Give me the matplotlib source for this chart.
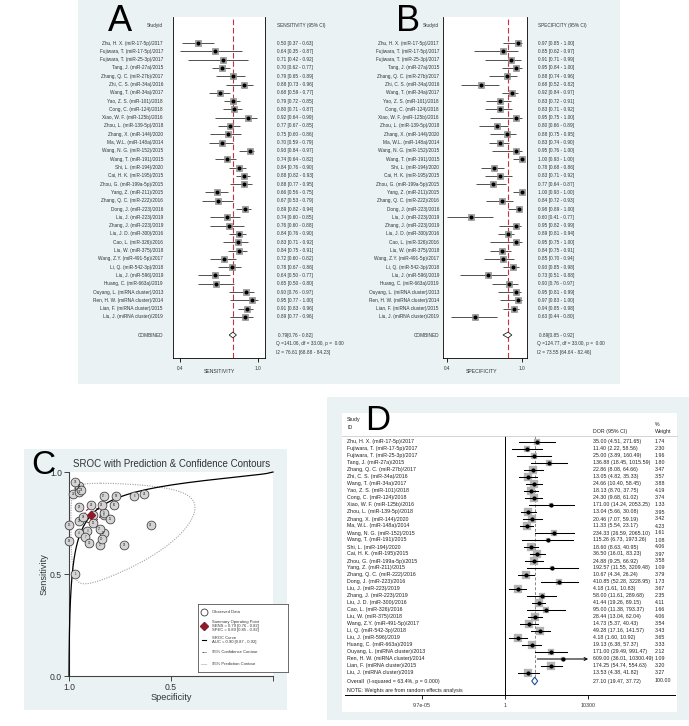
import numpy as np
import matplotlib
matplotlib.use('Agg')
import matplotlib.pyplot as plt
from matplotlib.patches import Rectangle, Polygon
from matplotlib.lines import Line2D
import matplotlib.transforms as mtransforms

plt.rcParams['font.family'] = ['Liberation Sans', 'DejaVu Sans']

W, H = 689, 726

# ---------------- data ----------------
studies = [
    "Zhu, H. X. (miR-17-5p)/2017", "Fujiwara, T. (miR-17-5p)/2017", "Fujiwara, T. (miR-25-3p)/2017",
    "Tang, J. (miR-27a)/2015", "Zhang, Q. C. (miR-27b)/2017", "Zhi, C. S. (miR-34a)/2016",
    "Wang, T. (miR-34a)/2017", "Yao, Z. S. (miR-101)/2018", "Cong, C. (miR-124)/2018",
    "Xiao, W. F. (miR-125b)/2016", "Zhou, L. (miR-139-5p)/2018", "Zhang, X. (miR-144)/2020",
    "Ma, W.L. (miR-148a)/2014", "Wang, N. G. (miR-152)/2015", "Wang, T. (miR-191)/2015",
    "Shi, L. (miR-194)/2020", "Cai, H. K. (miR-195)/2015", "Zhou, G. (miR-199a-5p)/2015",
    "Yang, Z. (miR-211)/2015", "Zhang, Q. C. (miR-222)/2016", "Dong, J. (miR-223)/2016",
    "Liu, J. (miR-223)/2019", "Zhang, J. (miR-223)/2019", "Liu, J. D. (miR-300)/2016",
    "Cao, L. (miR-326)/2016", "Liu, W. (miR-375)/2018", "Wang, Z.Y. (miR-491-5p)/2017",
    "Li, Q. (miR-542-3p)/2018", "Liu, J. (miR-596)/2019", "Huang, C. (miR-663a)/2019",
    "Ouyang, L. (miRNA cluster)/2013", "Ren, H. W. (miRNA cluster)/2014",
    "Lian, F. (miRNA cluster)/2015", "Liu, J. (miRNA cluster)/2019",
]

sens_est = [0.50, 0.64, 0.71, 0.70, 0.79, 0.88, 0.68, 0.79, 0.80, 0.92, 0.77, 0.75, 0.70, 0.93, 0.74, 0.84, 0.88,
            0.88, 0.66, 0.67, 0.89, 0.74, 0.76, 0.84, 0.83, 0.84, 0.72, 0.78, 0.64, 0.65, 0.90, 0.95, 0.91, 0.89]
sens_lo = [0.37, 0.35, 0.42, 0.62, 0.65, 0.73, 0.59, 0.72, 0.71, 0.64, 0.67, 0.60, 0.59, 0.84, 0.64, 0.76, 0.82,
           0.77, 0.56, 0.53, 0.82, 0.60, 0.60, 0.76, 0.71, 0.75, 0.60, 0.67, 0.50, 0.50, 0.76, 0.77, 0.83, 0.77]
sens_hi = [0.63, 0.87, 0.92, 0.77, 0.89, 0.96, 0.77, 0.85, 0.87, 0.99, 0.85, 0.86, 0.79, 0.97, 0.82, 0.90, 0.93,
           0.95, 0.75, 0.79, 0.94, 0.85, 0.88, 0.90, 0.92, 0.91, 0.82, 0.86, 0.77, 0.80, 0.97, 1.00, 0.96, 0.96]
sens_comb = (0.79, 0.76, 0.82)
sens_q = "Q =141.06, df = 33.00, p =  0.00"
sens_i2 = "I2 = 76.61 [68.88 - 84.23]"

spec_est = [0.97, 0.85, 0.91, 0.95, 0.88, 0.68, 0.92, 0.83, 0.83, 0.95, 0.80, 0.88, 0.83, 0.95, 1.00, 0.78, 0.83,
            0.77, 1.00, 0.84, 0.98, 0.60, 0.95, 0.89, 0.95, 0.84, 0.85, 0.93, 0.73, 0.90, 0.95, 0.97, 0.94, 0.63]
spec_lo = [0.85, 0.62, 0.71, 0.84, 0.74, 0.52, 0.84, 0.72, 0.71, 0.75, 0.66, 0.75, 0.74, 0.76, 0.93, 0.68, 0.71,
           0.64, 0.93, 0.72, 0.89, 0.41, 0.82, 0.81, 0.75, 0.75, 0.70, 0.85, 0.51, 0.76, 0.81, 0.83, 0.85, 0.44]
spec_hi = [1.00, 0.97, 0.99, 1.00, 0.96, 0.82, 0.97, 0.91, 0.92, 1.00, 0.89, 0.95, 0.90, 1.00, 1.00, 0.86, 0.92,
           0.87, 1.00, 0.93, 1.00, 0.77, 0.99, 0.94, 1.00, 0.91, 0.94, 0.98, 0.88, 0.97, 0.99, 1.00, 0.98, 0.80]
spec_comb = (0.89, 0.85, 0.92)
spec_q = "Q =124.77, df = 33.00, p =  0.00"
spec_i2 = "I2 = 73.55 [64.64 - 82.46]"

dor_est = [35.00, 11.40, 25.00, 136.88, 22.86, 13.05, 24.66, 18.13, 24.30, 171.00, 13.04, 20.46, 11.33, 234.33,
           115.26, 18.60, 36.50, 24.88, 192.57, 10.67, 410.85, 4.18, 58.00, 41.44, 95.00, 28.44, 14.73, 49.28,
           4.18, 19.13, 171.00, 609.00, 174.25, 13.53]
dor_lo = [4.51, 2.22, 3.89, 18.45, 8.08, 4.82, 10.40, 8.70, 9.68, 14.24, 5.66, 7.07, 5.54, 26.59, 6.73, 8.63,
          16.01, 9.25, 11.55, 4.34, 52.28, 1.61, 11.61, 19.26, 11.38, 13.04, 5.37, 17.16, 1.60, 6.38, 29.49,
          36.01, 54.74, 4.38]
dor_hi = [271.65, 58.56, 160.49, 1015.59, 64.66, 35.33, 58.45, 37.75, 61.02, 2053.25, 30.08, 59.19, 23.17,
          2065.10, 1973.26, 40.95, 83.23, 66.92, 3209.48, 26.24, 3228.95, 10.83, 289.68, 89.15, 793.37, 62.04,
          40.43, 141.57, 10.92, 57.37, 991.47, 10300.49, 554.63, 41.82]
dor_w = [1.74, 2.30, 1.96, 1.80, 3.47, 3.57, 3.88, 4.19, 3.74, 1.33, 3.95, 3.42, 4.23, 1.61, 1.08, 4.06, 3.97,
         3.58, 1.09, 3.79, 1.73, 3.67, 2.35, 4.11, 1.66, 4.06, 3.54, 3.43, 3.65, 3.33, 2.12, 1.09, 3.20, 3.27]
dor_overall = (27.10, 19.47, 37.72, 100.00)
dor_het = "Overall  (I-squared = 63.4%, p = 0.000)"
dor_ticks = [9.7e-05, 1, 10300]
dor_tick_labels = ["9.7e-05", "1", "10300"]

# SROC summary (from bivariate model)
sroc_sens = (0.79, 0.76, 0.82)
sroc_spec = (0.89, 0.85, 0.92)
sroc_auc = (0.90, 0.87, 0.92)
sroc_slope = 0.65
pred_sd = (0.62, 1.05, -0.15)   # logit sd sens, logit sd spec, correlation
conf_sd = (0.09, 0.17, -0.2)

BG = '#EAF2F3'
TXT = '#333333'

fig = plt.figure(figsize=(W / 100, H / 100), dpi=100)


def rect_px(x0, y0, x1, y1, color, z=-2, ec='none', lw=0):
    fig.patches.append(Rectangle((x0 / W, 1 - y1 / H), (x1 - x0) / W, (y1 - y0) / H,
                                 transform=fig.transFigure, facecolor=color, edgecolor=ec,
                                 linewidth=lw, zorder=z))


def add_ax(x0, y0, x1, y1):
    return fig.add_axes([x0 / W, 1 - y1 / H, (x1 - x0) / W, (y1 - y0) / H])


def logit(p):
    p = np.asarray(p, float)
    return np.log(p / (1 - p))


def expit(x):
    return 1 / (1 + np.exp(-x))


# ---------------- panels A & B ----------------
def forest(lay, letter, est, lo, hi, header, comb, qtxt, i2txt, xlab, xlim, ticks):
    rect_px(lay['bg'][0], 0, lay['bg'][1], 384, BG)
    ax = add_ax(lay['plot'][0], 17, lay['plot'][1], 358)
    ax.set_facecolor('white')
    n = len(est)
    rows = np.arange(1, n + 1)
    y0p, st = 43, 8.3

    def r(py):
        return (py - y0p) / st + 1
    ax.set_ylim(r(358), r(17))
    ax.set_xlim(*xlim)
    ax.axvline(comb[0], color='#c8323c', ls=(0, (5, 2.5)), lw=0.8, zorder=1)
    ax.hlines(rows, lo, hi, color='#222222', lw=0.55, zorder=2)
    ax.plot(est, rows, 's', ms=4.8, mfc='#a3a3a3', mec='#7f7f7f', mew=0.4, zorder=3)
    ax.plot(est, rows, 'o', ms=1.9, color='black', zorder=4)
    cr = r(335)
    ax.add_patch(Polygon([(comb[1], cr), (comb[0], cr - 0.35), (comb[2], cr), (comb[0], cr + 0.35)],
                         closed=True, facecolor='white', edgecolor='#222222', lw=0.6, zorder=3))
    ax.spines['top'].set_visible(False)
    for s in ['left', 'right', 'bottom']:
        ax.spines[s].set_linewidth(0.6)
    ax.set_yticks([])
    ax.set_xticks(ticks)
    ax.set_xticklabels(["0.4", "1.0"])
    ax.tick_params(axis='x', length=3, width=0.6, labelsize=3.4, pad=3, labelcolor=TXT)
    tr = mtransforms.blended_transform_factory(fig.transFigure, ax.transData)
    fs = 3.45
    lx, vx = lay['lab'] / W, lay['val'] / W
    for i in range(n):
        ax.text(lx, rows[i], studies[i], transform=tr, ha='right', va='center',
                fontsize=fs, color=TXT, clip_on=False)
        ax.text(vx, rows[i], f"{est[i]:.2f} [{lo[i]:.2f} - {hi[i]:.2f}]", transform=tr,
                ha='left', va='center', fontsize=fs, color=TXT, clip_on=False)
    ax.text(lx, r(26), "Studyid", transform=tr, ha='right', va='center', fontsize=fs,
            color=TXT, clip_on=False)
    ax.text(vx, r(26), header, transform=tr, ha='left', va='center', fontsize=fs,
            color=TXT, clip_on=False)
    ax.text(lx, cr, "COMBINED", transform=tr, ha='right', va='center', fontsize=fs,
            color=TXT, clip_on=False)
    ax.text(vx + 1 / W, cr, f"{comb[0]:.2f}[{comb[1]:.2f} - {comb[2]:.2f}]", transform=tr,
            ha='left', va='center', fontsize=fs, color=TXT, clip_on=False)
    ax.text(vx - 1 / W, r(343.5), qtxt, transform=tr, ha='left', va='center', fontsize=fs,
            color=TXT, clip_on=False)
    ax.text(vx - 1 / W, r(352), i2txt, transform=tr, ha='left', va='center', fontsize=fs,
            color=TXT, clip_on=False)
    fig.text(lay['xl'] / W, 1 - 372 / H, xlab, ha='center', va='center', fontsize=3.7, color=TXT)
    fig.text(lay['let'] / W, 1 - 31 / H, letter, ha='left', va='baseline', fontsize=26, color='black')


layA = dict(bg=(78, 343), plot=(173, 265), lab=163, val=277, xl=219, let=108)
layB = dict(bg=(343, 620), plot=(443, 527), lab=439, val=538, xl=482, let=396)

forest(layA, "A", sens_est, sens_lo, sens_hi, "SENSITIVITY (95% CI)", sens_comb, sens_q, sens_i2,
       "SENSITIVITY", (0.2917, 1.058), [0.35, 1.0])
forest(layB, "B", spec_est, spec_lo, spec_hi, "SPECIFICITY (95% CI)", spec_comb, spec_q, spec_i2,
       "SPECIFICITY", (0.3785, 1.039), [0.41, 1.0])

# ---------------- panel C ----------------
rect_px(24, 449, 287, 710, BG)
axc = add_ax(69, 472, 273, 676)
axc.set_facecolor('white')
axc.set_xlim(1.0, 0.0)
axc.set_ylim(0.0, 1.0)
for s in ['top', 'right']:
    axc.spines[s].set_visible(False)
for s in ['left', 'bottom']:
    axc.spines[s].set_linewidth(0.8)
    axc.spines[s].set_color('#444444')
axc.set_xticks([1.0, 0.5, 0.0])
axc.set_xticklabels(["1.0", "0.5", ""])
axc.set_yticks([0.0, 0.5, 1.0])
axc.set_yticklabels(["0.0", "0.5", "1.0"])
axc.tick_params(length=3.5, width=0.7, labelsize=6.2, pad=1.5, color='#444444', labelcolor='#333333')
axc.set_xlabel("Specificity", fontsize=6.6, color='#333333', labelpad=1)
axc.set_ylabel("Sensitivity", fontsize=6.6, color='#333333', labelpad=1)
fig.text(31 / W, 1 - 474 / H, "C", fontsize=24, ha='left', va='baseline')
fig.text(73 / W, 1 - 464 / H, "SROC with Prediction & Confidence Contours", fontsize=7, ha='left',
         va='center', color='#333333')

mu = np.array([logit(sroc_sens[0]), logit(sroc_spec[0])])
t = np.linspace(0, 2 * np.pi, 300)
c95 = np.sqrt(-2 * np.log(0.05))


def ellipse(sd):
    s1, s2, rho = sd
    cov = np.array([[s1 ** 2, rho * s1 * s2], [rho * s1 * s2, s2 ** 2]])
    L = np.linalg.cholesky(cov)
    pts = mu[:, None] + c95 * L @ np.vstack([np.cos(t), np.sin(t)])
    return expit(pts[1]), expit(pts[0])   # spec, sens


px_, py_ = ellipse(pred_sd)
axc.plot(px_, py_, color='#a0a0a0', ls=(0, (1, 1.2)), lw=0.8, zorder=2)
cx_, cy_ = ellipse(conf_sd)
axc.plot(cx_, cy_, color='#8b1a1a', ls=(0, (3, 2)), lw=0.7, zorder=2)

spg = 1 - np.logspace(-7, np.log10(0.9999), 500)
sroc_curve = expit(mu[0] + sroc_slope * (logit(1 - spg) - logit(1 - sroc_spec[0])))
axc.plot(spg, sroc_curve, color='black', lw=0.9, zorder=3, clip_on=False)

axc.scatter(spec_est, sens_est, s=40, facecolor='#d4d4d4', edgecolor='#3a3a3a', lw=0.55, zorder=4,
            clip_on=False)
for i in range(len(spec_est)):
    axc.text(spec_est[i], sens_est[i], str(i + 1), fontsize=2.1, ha='center', va='center', zorder=5,
             color='#222222', clip_on=False)
axc.plot([sroc_spec[0]], [sroc_sens[0]], 'D', ms=4.5, color='#8b1a2a', zorder=6)

# legend
axl = add_ax(198, 604, 288, 672)
axl.set_xlim(0, 90)
axl.set_ylim(68, 0)
axl.set_xticks([])
axl.set_yticks([])
for s in axl.spines.values():
    s.set_linewidth(0.6)
    s.set_color('#555555')
lfs = 3.0
axl.plot([6], [8], 'o', ms=5, mfc='white', mec='#3a3a3a', mew=0.6)
axl.text(14, 8, "Observed Data", fontsize=lfs, va='center', color='#333333')
axl.plot([6], [22], 'D', ms=4, color='#8b1a2a')
axl.text(14, 22, "Summary Operating Point\n"
         f"SENS = {sroc_sens[0]:.2f} [{sroc_sens[1]:.2f} - {sroc_sens[2]:.2f}]\n"
         f"SPEC = {sroc_spec[0]:.2f} [{sroc_spec[1]:.2f} - {sroc_spec[2]:.2f}]",
         fontsize=lfs, va='center', color='#333333', linespacing=0.95)
axl.plot([4, 8], [36, 36], color='black', lw=0.8)
axl.text(14, 36, f"SROC Curve\nAUC = {sroc_auc[0]:.2f} [{sroc_auc[1]:.2f} - {sroc_auc[2]:.2f}]",
         fontsize=lfs, va='center', color='#333333', linespacing=0.95)
axl.plot([4, 8], [48, 48], color='#555555', lw=0.7, ls=(0, (2, 1)))
axl.text(14, 48, "95% Confidence Contour", fontsize=lfs, va='center', color='#333333')
axl.plot([3, 9], [60, 60], color='#9a9a9a', lw=0.7, ls=(0, (1, 1)))
axl.text(14, 60, "95% Prediction Contour", fontsize=lfs, va='center', color='#333333')

# ---------------- panel D ----------------
rect_px(327, 397, 689, 720, BG)
rect_px(342, 413, 677, 712, 'white', z=-1)
axd = add_ax(345, 436, 675, 695)
axd.patch.set_alpha(0)
axd.set_xscale('log')
axd.set_xlim(10 ** -7.73, 10 ** 8.21)
y0d, std = 442, 7.0


def rd(py):
    return (py - y0d) / std + 1


axd.set_ylim(rd(695), rd(436))
nd = len(dor_est)
rows_d = np.arange(1, nd + 1)
ov_row = rd(681)
axd.axvline(1, color='black', lw=0.7, zorder=1)
axd.vlines(dor_overall[0], rd(436), ov_row, color='#888888', lw=0.7, ls=(0, (3, 2)), zorder=1)
clip_hi = max(dor_ticks)
for i in range(nd):
    side_px = 4.3 * np.sqrt(dor_w[i])
    axd.plot([dor_est[i]], [rows_d[i]], 's', ms=side_px / 1.389, mfc='#b4b4b4', mec='#b4b4b4', mew=0.2,
             zorder=2)
    if dor_hi[i] > clip_hi:
        axd.annotate('', xy=(clip_hi, rows_d[i]), xytext=(dor_lo[i], rows_d[i]),
                     arrowprops=dict(arrowstyle='->', lw=0.75, color='black', mutation_scale=5,
                                     shrinkA=0, shrinkB=0), zorder=3)
    else:
        axd.plot([dor_lo[i], dor_hi[i]], [rows_d[i], rows_d[i]], color='black', lw=0.75, zorder=3)
axd.plot(dor_est, rows_d, 'o', ms=2.0, color='black', zorder=4)
axd.add_patch(Polygon([(dor_overall[1], ov_row), (dor_overall[0], ov_row - 0.55), (dor_overall[2], ov_row),
                       (dor_overall[0], ov_row + 0.55)], closed=True, facecolor='white',
                      edgecolor='#1f4e9c', lw=0.8, zorder=4))
for s in ['top', 'left', 'right']:
    axd.spines[s].set_visible(False)
axd.spines['bottom'].set_linewidth(0.7)
axd.set_yticks([])
axd.set_xticks(dor_ticks)
axd.set_xticklabels(dor_tick_labels)
axd.xaxis.set_minor_locator(matplotlib.ticker.NullLocator())
axd.tick_params(axis='x', length=3, width=0.6, labelsize=3.8, pad=2.5, labelcolor='#333333')
trd = mtransforms.blended_transform_factory(fig.transFigure, axd.transData)
dfs = 3.8
for i in range(nd):
    axd.text(347 / W, rows_d[i], studies[i], transform=trd, ha='left', va='center', fontsize=dfs,
             color='#222222', clip_on=False)
    axd.text(593 / W, rows_d[i], f"{dor_est[i]:.2f} ({dor_lo[i]:.2f}, {dor_hi[i]:.2f})", transform=trd,
             ha='left', va='center', fontsize=dfs, color='#222222', clip_on=False)
    axd.text(655 / W, rows_d[i], f"{dor_w[i]:.2f}", transform=trd, ha='left', va='center', fontsize=dfs,
             color='#222222', clip_on=False)
axd.text(347 / W, ov_row, dor_het, transform=trd, ha='left', va='center', fontsize=dfs, color='#222222',
         clip_on=False)
axd.text(593 / W, ov_row, f"{dor_overall[0]:.2f} ({dor_overall[1]:.2f}, {dor_overall[2]:.2f})",
         transform=trd, ha='left', va='center', fontsize=dfs, color='#222222', clip_on=False)
axd.text(655 / W, ov_row, f"{dor_overall[3]:.2f}", transform=trd, ha='left', va='center', fontsize=dfs,
         color='#222222', clip_on=False)
axd.text(347 / W, rd(691), "NOTE: Weights are from random effects analysis", transform=trd, ha='left',
         va='center', fontsize=dfs, color='#222222', clip_on=False)
fig.text(347 / W, 1 - 420 / H, "Study", fontsize=dfs, ha='left', va='center', color='#222222')
fig.text(347 / W, 1 - 427.5 / H, "ID", fontsize=dfs, ha='left', va='center', color='#222222')
fig.text(593 / W, 1 - 432 / H, "DOR (95% CI)", fontsize=dfs, ha='left', va='center', color='#222222')
fig.text(655 / W, 1 - 425 / H, "%", fontsize=dfs, ha='left', va='center', color='#222222')
fig.text(655 / W, 1 - 432 / H, "Weight", fontsize=dfs, ha='left', va='center', color='#222222')
fig.lines.append(Line2D([342 / W, 677 / W], [1 - 436 / H, 1 - 436 / H], transform=fig.transFigure,
                        color='#cccccc', lw=0.6))
fig.text(365 / W, 1 - 430 / H, "D", fontsize=25, ha='left', va='baseline', color='black')

fig.savefig('out.png', dpi=100, facecolor='white')
